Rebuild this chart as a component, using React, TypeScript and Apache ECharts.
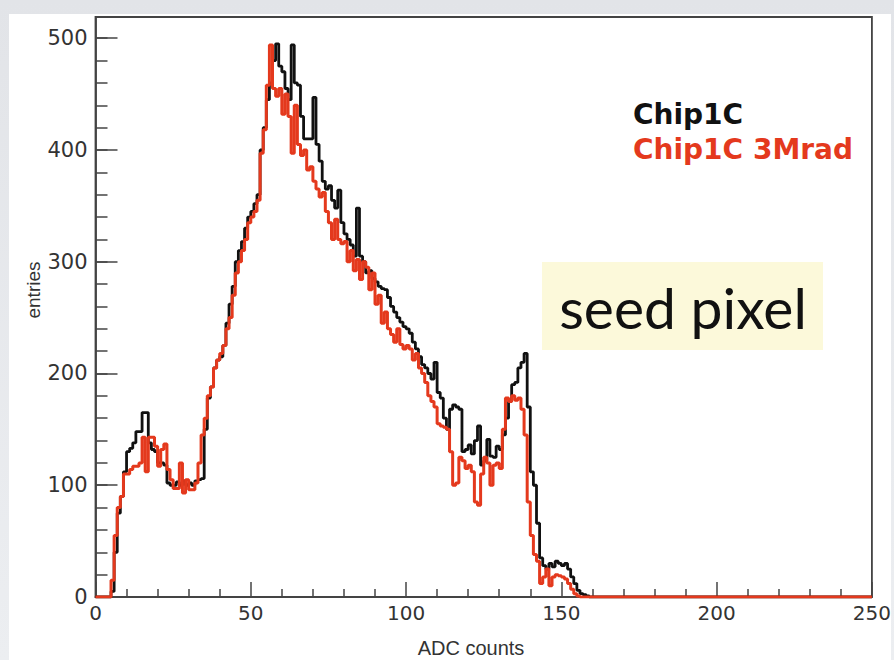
import React, { useEffect, useRef } from "react";
import * as echarts from "echarts";

// Histogram contents, one entry per 1-ADC bin starting at bin 0
const chip1C: number[] = [
  0, 0, 0, 0, 0,
  5, 40, 75, 90, 112,
  130, 133, 138, 148, 148,
  165, 165, 138, 132, 130,
  120, 120, 118, 102, 100,
  100, 103, 100, 104, 100,
  102, 100, 104, 105, 106,
  150, 178, 188, 205, 212,
  215, 225, 245, 262, 278,
  300, 310, 318, 330, 340,
  345, 352, 360, 400, 420,
  445, 460, 480, 495, 475,
  470, 455, 445, 494, 460,
  458, 430, 410, 410, 410,
  447, 405, 390, 372, 365,
  368, 355, 348, 364, 335,
  325, 320, 315, 305, 348,
  305, 300, 290, 292, 285,
  282, 278, 276, 275, 268,
  260, 255, 250, 246, 242,
  240, 236, 228, 222, 215,
  208, 205, 200, 195, 210,
  183, 178, 160, 150, 168,
  172, 170, 168, 130, 132,
  136, 128, 140, 153, 118,
  122, 141, 126, 125, 135,
  132, 145, 160, 175, 190,
  192, 205, 210, 218, 170,
  112, 100, 66, 35, 28,
  25, 30, 27, 32, 30,
  28, 30, 25, 18, 12,
  6, 3, 2, 1, 0,
];

const chip1C3Mrad: number[] = [
  0, 0, 0, 0, 0,
  15, 55, 80, 90, 110,
  110, 114, 117, 117, 120,
  143, 112, 143, 143, 135,
  117, 132, 137, 114, 105,
  97, 97, 120, 93, 105,
  96, 96, 102, 120, 145,
  160, 180, 188, 205, 212,
  218, 225, 240, 250, 270,
  290, 300, 310, 320, 335,
  340, 345, 355, 397, 418,
  458, 494, 455, 448, 455,
  432, 450, 430, 397, 440,
  405, 395, 400, 382, 385,
  372, 365, 358, 362, 345,
  335, 320, 338, 320, 316,
  318, 300, 310, 292, 302,
  284, 300, 295, 275, 290,
  262, 270, 245, 255, 240,
  235, 228, 240, 226, 222,
  225, 222, 212, 218, 205,
  200, 192, 180, 175, 170,
  155, 153, 152, 150, 130,
  100, 102, 125, 122, 115,
  118, 112, 85, 82, 110,
  125, 120, 100, 118, 120,
  115, 150, 178, 175, 180,
  176, 178, 168, 145, 85,
  55, 38, 32, 12, 18,
  25, 10, 18, 20, 19,
  18, 16, 12, 7, 3,
  1, 0, 0, 0, 0,
];

const xMin = 0;
const xMax = 250;
const yMax = 519;
const seriesNames = ["Chip1C", "Chip1C 3Mrad"];
const xTitle = "ADC counts";
const yTitle = "entries";
const annotation = "seed pixel";

const toSteps = (vals: number[]) => {
  const pts: number[][] = vals.map((v, i) => [i, v]);
  pts.push([xMax, 0]);
  return pts;
};

const tickColor = "#444";

export default function App() {
  const ref = useRef<HTMLDivElement>(null);
  useEffect(() => {
    if (!ref.current) return;
    const chart = echarts.init(ref.current, undefined, { renderer: "svg" });
    const labelFont = { color: "#333", fontFamily: "DejaVu Sans", fontSize: 20 };
    chart.setOption({
      animation: false,
      grid: {
        left: 95.5,
        top: 17,
        width: 782.5,
        height: 580,
        show: true,
        borderColor: "#444",
        borderWidth: 1.8,
        backgroundColor: "#ffffff",
      },
      xAxis: {
        type: "value",
        min: xMin,
        max: xMax,
        interval: 50,
        axisLine: { lineStyle: { color: tickColor, width: 1.8 } },
        axisTick: { inside: true, length: 15, lineStyle: { color: tickColor, width: 1.5 } },
        minorTick: { show: true, splitNumber: 5, length: 8, lineStyle: { color: tickColor, width: 1.5 } },
        splitLine: { show: false },
        minorSplitLine: { show: false },
        axisLabel: { ...labelFont, margin: 6 },
      },
      yAxis: [
        {
          type: "value",
          min: 0,
          max: yMax,
          interval: 100,
          axisLine: { lineStyle: { color: tickColor, width: 1.8 } },
          axisTick: { inside: true, length: 22, lineStyle: { color: tickColor, width: 1.5 } },
          splitLine: { show: false },
          axisLabel: { ...labelFont, fontSize: 21, margin: 8, showMaxLabel: false,
            formatter: (v: number) => (v % 100 === 0 ? String(v) : "") },
        },
        {
          type: "value",
          position: "left",
          min: 0,
          max: yMax,
          interval: 20,
          axisLine: { show: false },
          axisTick: { inside: true, length: 12, lineStyle: { color: tickColor, width: 1.5 } },
          splitLine: { show: false },
          axisLabel: { show: false },
        },
      ],
      series: [
        {
          name: seriesNames[0],
          type: "line",
          step: "end",
          symbol: "none",
          data: toSteps(chip1C),
          lineStyle: { color: "#111111", width: 2.8 },
          z: 3,
        },
        {
          name: seriesNames[1],
          type: "line",
          step: "end",
          symbol: "none",
          data: toSteps(chip1C3Mrad),
          lineStyle: { color: "#e4391d", width: 3 },
          z: 4,
        },
      ],
      graphic: [
        {
          type: "text",
          x: 633,
          y: 114,
          style: { text: seriesNames[0], fill: "#111", font: "bold 28px 'DejaVu Sans'", textVerticalAlign: "middle" },
          z: 10,
        },
        {
          type: "text",
          x: 633,
          y: 149,
          style: { text: seriesNames[1], fill: "#e4391d", font: "bold 28px 'DejaVu Sans'", textVerticalAlign: "middle" },
          z: 10,
        },
        {
          type: "rect",
          shape: { x: 542, y: 262, width: 281, height: 88 },
          style: { fill: "#fcf9da" },
          z: 10,
        },
        {
          type: "text",
          x: 683,
          y: 307,
          style: { text: annotation, fill: "#111", font: "57px Lato", textAlign: "center", textVerticalAlign: "middle" },
          z: 11,
        },
        {
          type: "text",
          x: 471,
          y: 648,
          style: { text: xTitle, fill: "#333", font: "20px 'Liberation Sans'", textAlign: "center", textVerticalAlign: "middle" },
          z: 10,
        },
        {
          type: "text",
          x: 33,
          y: 290,
          rotation: Math.PI / 2,
          style: { text: yTitle, fill: "#333", font: "19px 'Liberation Sans'", textAlign: "center", textVerticalAlign: "middle" },
          z: 10,
        },
      ],
    });
    return () => chart.dispose();
  }, []);

  return (
    <div
      style={{
        position: "fixed",
        left: 0,
        top: 0,
        width: 894,
        height: 660,
        background: "linear-gradient(#e2e4e8, #eceef1)",
        overflow: "hidden",
      }}
    >
      <div style={{ position: "absolute", left: 9, top: 14, width: 882, height: 646, background: "#ffffff" }} />
      <div ref={ref} style={{ position: "absolute", left: 0, top: 0, width: 894, height: 660 }} />
    </div>
  );
}
